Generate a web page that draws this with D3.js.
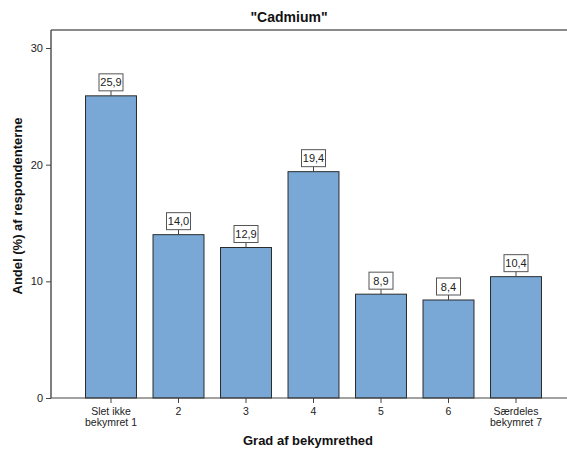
<!DOCTYPE html>
<html><head><meta charset="utf-8">
<script src="https://cdn.jsdelivr.net/npm/d3@7"></script>
<style>body{margin:0;background:#fff}svg{display:block;font-family:"Liberation Sans",Arial,sans-serif}</style>
</head><body><svg id="c" width="567" height="452"></svg>
<script>
const categories = ["Slet ikke\nbekymret 1","2","3","4","5","6","Særdeles\nbekymret 7"];
const values = [25.9,14.0,12.9,19.4,8.9,8.4,10.4];
const yTicks = [0,10,20,30];
const title = "\"Cadmium\"";
const xTitle = "Grad af bekymrethed";
const yTitle = "Andel (%) af respondenterne";

const svg = d3.select("#c");
const pLeft = 51, pTop = 30, pBottom = 398, pRight = 567;
const x = d3.scaleBand().domain(d3.range(categories.length)).range([77.25, 549.75]).paddingInner(0.245).paddingOuter(0.1225);
const y = d3.scaleLinear().domain([0,30]).range([pBottom, 48]);

// frame
svg.append("line").attr("x1",pLeft).attr("x2",pRight).attr("y1",pTop).attr("y2",pTop).attr("stroke","#8a8a8a").attr("stroke-width",2);
svg.append("line").attr("x1",pLeft).attr("x2",pLeft).attr("y1",pTop).attr("y2",pBottom).attr("stroke","#555").attr("stroke-width",1.5);

// bars
svg.selectAll("rect.bar").data(values).join("rect").attr("class","bar")
  .attr("x",(d,i)=>x(i)).attr("width",x.bandwidth())
  .attr("y",d=>y(d)).attr("height",d=>pBottom-y(d))
  .attr("fill","#79a8d6").attr("stroke","#2b2b2b").attr("stroke-width",1);

// y axis
const ya = svg.append("g").attr("transform",`translate(${pLeft},0)`)
  .call(d3.axisLeft(y).tickValues(yTicks).tickSize(5).tickFormat(d3.format("d")));
ya.select(".domain").remove();
ya.selectAll("line").attr("stroke","#444");
ya.selectAll("text").attr("font-size",11).attr("fill","#222").attr("font-family","Liberation Sans, Arial, sans-serif");

// x axis line
svg.append("line").attr("x1",pLeft).attr("x2",pRight).attr("y1",pBottom).attr("y2",pBottom).attr("stroke","#444").attr("stroke-width",1.2);
const xa = svg.append("g").attr("transform",`translate(0,${pBottom})`)
  .call(d3.axisBottom(x).tickSize(5).tickFormat(""));
xa.select(".domain").remove();
xa.selectAll("line").attr("stroke","#444");
categories.forEach((c,i)=>{
  const t = svg.append("text").attr("x",x(i)+x.bandwidth()/2).attr("y",pBottom+17)
    .attr("text-anchor","middle").attr("font-size",10.5).attr("fill","#222");
  c.split("\n").forEach((ln,k)=>t.append("tspan").attr("x",x(i)+x.bandwidth()/2).attr("dy",k?11:0).text(ln));
});

// value labels
const fmt = d => d.toFixed(1).replace(".",",");
values.forEach((v,i)=>{
  const cx = x(i)+x.bandwidth()/2, by = y(v);
  svg.append("line").attr("x1",cx).attr("x2",cx).attr("y1",by).attr("y2",by-5).attr("stroke","#444");
  const w = 24, h = 17;
  svg.append("rect").attr("x",cx-w/2).attr("y",by-5-h).attr("width",w).attr("height",h)
    .attr("fill","#fff").attr("stroke","#555").attr("stroke-width",1);
  svg.append("text").attr("x",cx).attr("y",by-5-h/2+4).attr("text-anchor","middle")
    .attr("font-size",11).attr("fill","#222").text(fmt(v));
});

// titles
svg.append("text").attr("x",289).attr("y",22).attr("text-anchor","middle").attr("font-size",14).attr("font-weight","bold").attr("fill","#111").text(title);
svg.append("text").attr("x",308).attr("y",445).attr("text-anchor","middle").attr("font-size",13).attr("font-weight","bold").attr("fill","#111").text(xTitle);
svg.append("text").attr("transform","translate(22,206) rotate(-90)").attr("text-anchor","middle").attr("font-size",13).attr("font-weight","bold").attr("fill","#111").text(yTitle);
</script></body></html>
